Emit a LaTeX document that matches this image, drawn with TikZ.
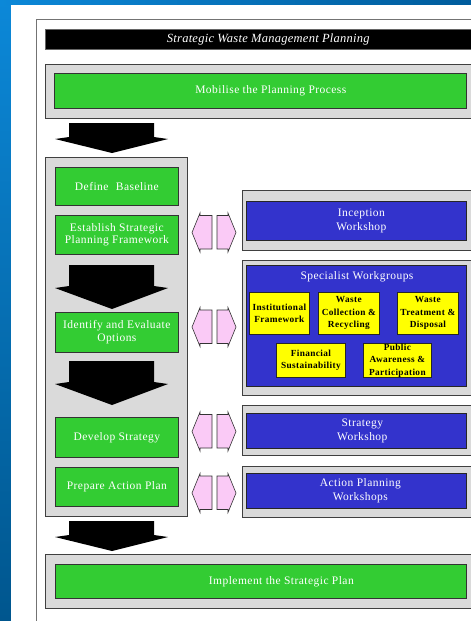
\documentclass[tikz,border=0pt]{standalone}
\usepackage{fontspec}
\setmainfont{Liberation Serif}
\definecolor{bgA}{RGB}{12,136,216}
\definecolor{bgB}{RGB}{0,86,142}
\definecolor{bgC}{RGB}{0,92,156}
\definecolor{grn}{RGB}{51,204,51}
\definecolor{blu}{RGB}{51,51,204}
\definecolor{yel}{RGB}{255,255,0}
\definecolor{gry}{RGB}{218,218,218}
\definecolor{pnk}{RGB}{250,202,246}
\newcommand{\boxfont}{\fontsize{11.5}{12.5}\selectfont\addfontfeature{LetterSpace=4}}
\newcommand{\bboxfont}{\fontsize{11.5}{14.5}\selectfont\addfontfeature{LetterSpace=4}}
\newcommand{\yfont}{\fontsize{9.3}{12.5}\selectfont\bfseries\addfontfeature{LetterSpace=4}}
\newcommand{\tfont}{\fontsize{12.5}{14}\selectfont\itshape\addfontfeature{LetterSpace=2}}
\begin{document}
\begin{tikzpicture}[x=1pt,y=-1pt,
  every node/.style={inner sep=0pt, anchor=north west},
  greybox/.style={draw=black!75, fill=gry, line width=0.7pt},
  greenbox/.style={draw=black!80, fill=grn, line width=0.7pt, text=white, font=\boxfont, align=center},
  bluebox/.style={draw=black!85, fill=blu, line width=0.7pt, text=white, font=\bboxfont, align=center},
  yelbox/.style={draw=black!85, fill=yel, line width=0.7pt, text=black, font=\yfont, align=center},
  titlebar/.style={draw=black!60, fill=black, line width=0.6pt, text=white, font=\tfont},
  blockarrow/.style={fill=black},
  pinkarrow/.style={draw=black!80, fill=pnk, line width=0.6pt, line join=miter}]
\useasboundingbox (0,0) rectangle (471,621);
\clip (0,0) rectangle (471,621);
% background
\shade[top color=bgA, bottom color=bgB] (0,0) rectangle (11,621);
\shade[left color=bgA, right color=bgC] (0,0) rectangle (471,5);
\fill[white] (11,5) rectangle (480,630);
\draw[black!55, line width=0.9pt] (36,630) -- (36,19) -- (480,19);
% title
\node[titlebar, minimum width=440pt, minimum height=20pt] (title) at (45,29) {\hspace*{6pt}Strategic Waste Management Planning};
% grey containers
\node[greybox, minimum width=440pt, minimum height=54pt] (mobg) at (45,64) {};
\node[greybox, minimum width=142pt, minimum height=359pt] (leftg) at (45,157) {};
\node[greybox, minimum width=240pt, minimum height=60pt] (incg) at (242,190) {};
\node[greybox, minimum width=240pt, minimum height=135pt] (specg) at (242,260) {};
\node[greybox, minimum width=240pt, minimum height=50pt] (strg) at (242,405) {};
\node[greybox, minimum width=240pt, minimum height=51pt] (actg) at (242,466) {};
\node[greybox, minimum width=440pt, minimum height=54pt] (impg) at (45,554) {};
% green boxes
\node[greenbox, minimum width=412pt, minimum height=35pt] (mob) at (54,73) {\hspace*{21pt}Mobilise the Planning Process};
\node[greenbox, minimum width=123pt, minimum height=38pt] (def) at (55,167) {Define\hspace{4pt} Baseline};
\node[greenbox, minimum width=123pt, minimum height=39pt] (est) at (55,215) {Establish Strategic\\Planning Framework};
\node[greenbox, minimum width=123pt, minimum height=40pt] (ide) at (55,312) {Identify and Evaluate\\Options};
\node[greenbox, minimum width=123pt, minimum height=40pt] (dev) at (55,417) {Develop Strategy};
\node[greenbox, minimum width=123pt, minimum height=39pt] (pre) at (55,467) {Prepare Action Plan};
\node[greenbox, minimum width=411pt, minimum height=34pt] (imp) at (55,564) {\hspace*{41pt}Implement the Strategic Plan};
% blue boxes
\node[bluebox, minimum width=220pt, minimum height=39pt] (inc) at (246,201) {\hspace*{10pt}Inception\\\hspace*{10pt}Workshop};
\node[bluebox, minimum width=220pt, minimum height=121pt] (spec) at (246,265) {};
\node[text=white, font=\bboxfont, anchor=center] (spect) at (357,277) {Specialist Workgroups};
\node[bluebox, minimum width=220pt, minimum height=35pt] (str) at (246,413) {\hspace*{12pt}Strategy\\\hspace*{12pt}Workshop};
\node[bluebox, minimum width=220pt, minimum height=35pt] (act) at (246,473) {\hspace*{8pt}Action Planning\\\hspace*{8pt}Workshops};
% yellow boxes
\node[yelbox, minimum width=60pt, minimum height=42pt] (ins) at (249,292) {Institutional\\Framework};
\node[yelbox, minimum width=61pt, minimum height=42pt] (col) at (318,292) {Waste\\Collection \&\\Recycling};
\node[yelbox, minimum width=61pt, minimum height=42pt] (tre) at (397,292) {Waste\\Treatment \&\\Disposal};
\node[yelbox, minimum width=69pt, minimum height=34pt] (fin) at (276,343) {Financial\\Sustainability};
\node[yelbox, minimum width=68pt, minimum height=34pt] (pub) at (363,343) {Public\\Awareness \&\\Participation};
% black block arrows
\fill[blockarrow] (69,123) -- (154,123) -- (154,137) -- (168,139) -- (112,153) -- (55,139) -- (69,137) -- cycle;
\fill[blockarrow] (69,265) -- (154,265) -- (154,286) -- (168,288) -- (112,309) -- (55,288) -- (69,286) -- cycle;
\fill[blockarrow] (69,361) -- (154,361) -- (154,382) -- (168,384) -- (112,405) -- (55,384) -- (69,382) -- cycle;
\fill[blockarrow] (69,521) -- (154,521) -- (154,535) -- (168,537) -- (112,551) -- (55,537) -- (69,535) -- cycle;
% pink double arrows
\foreach \cy in {232.5,327,431.5,493} {
  \draw[pinkarrow] (192,\cy) -- (200,\cy-19.5) -- (200,\cy-17) -- (212,\cy-17) -- (212,\cy+16.5) -- (200,\cy+16.5) -- (200,\cy+19.5) -- cycle;
  \draw[pinkarrow] (236,\cy) -- (228,\cy-19.5) -- (228,\cy-17) -- (217,\cy-17) -- (217,\cy+16.5) -- (228,\cy+16.5) -- (228,\cy+19.5) -- cycle;
}
\end{tikzpicture}
\end{document}
